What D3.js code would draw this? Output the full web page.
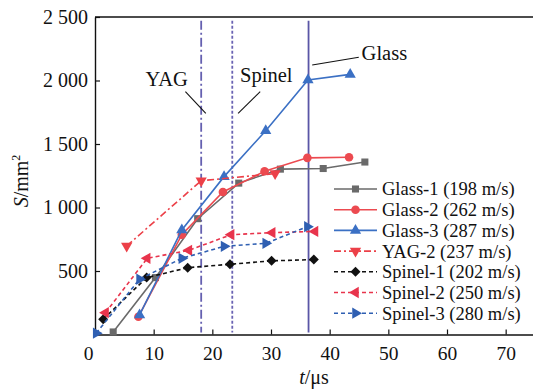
<!DOCTYPE html>
<html>
<head>
<meta charset="utf-8">
<script src="https://cdn.jsdelivr.net/npm/d3@7"></script>
<style>
  html, body { margin: 0; padding: 0; background: #fff; }
  svg, svg text { font-family: "Liberation Serif", Tinos, "Times New Roman", Times, "DejaVu Serif", serif !important; }
</style>
</head>
<body>
<svg id="chart"></svg>
<script>
// data (t in µs, S in mm²)
var tGlass1 = [3.1, 10.3, 17.5, 24.5, 31.6, 38.9, 46.0];
var sGlass1 = [20, 448, 912, 1192, 1302, 1307, 1358];
var tGlass2 = [7.4, 14.8, 21.8, 28.9, 36.2, 43.3];
var sGlass2 = [140, 786, 1122, 1285, 1391, 1396];
var tGlass3 = [7.6, 14.8, 22.0, 29.1, 36.3, 43.5];
var sGlass3 = [154, 823, 1243, 1605, 2004, 2048];
var tYag2 = [5.4, 18.1, 30.7];
var sYag2 = [697, 1211, 1267];
var tSpinel1 = [1.4, 8.8, 15.8, 23.0, 30.1, 37.3];
var sSpinel1 = [120, 448, 526, 553, 580, 590];
var tSpinel2 = [1.8, 8.9, 16.0, 23.2, 30.2, 37.5];
var sSpinel2 = [172, 600, 663, 786, 802, 812];
var tSpinel3 = [0.2, 7.6, 14.8, 22.0, 29.1, 36.2];
var sSpinel3 = [10, 436, 600, 694, 718, 849];

var seriesNames = ["Glass-1 (198 m/s)", "Glass-2 (262 m/s)", "Glass-3 (287 m/s)", "YAG-2 (237 m/s)",
                   "Spinel-1 (202 m/s)", "Spinel-2 (250 m/s)", "Spinel-3 (280 m/s)"];

// vertical marker lines
var markerNames = ["YAG", "Spinel", "Glass"];
var markerTimes = [18.1, 23.4, 36.4];

var xTicks = [0, 10, 20, 30, 40, 50, 60, 70];
var yTicks = [500, 1000, 1500, 2000, 2500];

var FONT = "'Liberation Serif', Tinos, 'Times New Roman', Times, 'DejaVu Serif', serif";
var W = 533, H = 392;
var svg = d3.select("#chart").attr("width", W).attr("height", H).attr("font-family", FONT);

var x = d3.scaleLinear().domain([0, 75]).range([95, 535]);
var y = d3.scaleLinear().domain([0, 2500]).range([334.5, 17]);

var series = [
  { t: tGlass1, s: sGlass1, color: "#6a6a6a", dash: null, sym: d3.symbolSquare, rot: 0, size: 50 },
  { t: tGlass2, s: sGlass2, color: "#ec4a50", dash: null, sym: d3.symbolCircle, rot: 0, size: 58 },
  { t: tGlass3, s: sGlass3, color: "#3b70c4", dash: null, sym: d3.symbolTriangle, rot: 0, size: 55 },
  { t: tYag2, s: sYag2, color: "#ec4048", dash: "7,3,2,3", sym: d3.symbolTriangle, rot: 180, size: 55 },
  { t: tSpinel1, s: sSpinel1, color: "#111111", dash: "4,3", sym: d3.symbolSquare, rot: 45, size: 50 },
  { t: tSpinel2, s: sSpinel2, color: "#e8344c", dash: "4,3", sym: d3.symbolTriangle, rot: -90, size: 55 },
  { t: tSpinel3, s: sSpinel3, color: "#2f5fb2", dash: "4,3", sym: d3.symbolTriangle, rot: 90, size: 55 }
];
series.forEach(function (d, i) { d.name = seriesNames[i]; });

// axes
var xAxis = d3.axisBottom(x).tickValues(xTicks).tickSize(-5).tickSizeOuter(0).tickPadding(11.5);
var yAxis = d3.axisLeft(y).tickValues(yTicks).tickSize(-5).tickSizeOuter(0).tickPadding(7)
  .tickFormat(function (d) { return d >= 1000 ? d3.format(",")(d).replace(",", " ") : d; });

var gx = svg.append("g").attr("transform", "translate(0," + y(0) + ")").call(xAxis);
var gy = svg.append("g").attr("transform", "translate(" + x(0) + ",0)").call(yAxis);
[gx, gy].forEach(function (g) {
  g.attr("font-family", FONT);
  g.selectAll("text").attr("font-size", 19.5).attr("fill", "#111");
  g.selectAll("line").attr("stroke", "#111").attr("stroke-width", 1.2);
  g.select(".domain").attr("stroke", "#111").attr("stroke-width", 1.4);
});
gx.selectAll(".tick text").filter(function (d) { return d === 0; }).attr("dx", -7);
gy.selectAll(".tick text").attr("font-size", 20);

// top frame line
svg.append("line")
  .attr("x1", x(0)).attr("x2", x(75))
  .attr("y1", y(2500)).attr("y2", y(2500))
  .attr("stroke", "#111").attr("stroke-width", 1.4);

// axis titles
var yt = svg.append("text")
  .attr("transform", "translate(28," + 181 + ") rotate(-90)")
  .attr("text-anchor", "middle").attr("font-size", 20).attr("fill", "#111");
yt.append("tspan").attr("font-style", "italic").text("S");
yt.append("tspan").text("/mm");
yt.append("tspan").attr("font-size", 12).attr("dy", -8).text("2");

var xt = svg.append("text")
  .attr("x", 314).attr("y", 384)
  .attr("text-anchor", "middle").attr("font-size", 20).attr("fill", "#111");
xt.append("tspan").attr("font-style", "italic").text("t");
xt.append("tspan").text("/μs");

// vertical marker lines
var markerDash = ["9,3,2,3", "3,2", null];
var markerColor = ["#6560b0", "#6a63b3", "#5a56a6"];
markerTimes.forEach(function (t, i) {
  svg.append("line")
    .attr("x1", x(t)).attr("x2", x(t))
    .attr("y1", y(2470)).attr("y2", y(15))
    .attr("stroke", markerColor[i])
    .attr("stroke-width", 1.8)
    .attr("stroke-dasharray", markerDash[i]);
});

// series lines and markers
var line = d3.line().x(function (d) { return x(d[0]); }).y(function (d) { return y(d[1]); });

series.forEach(function (sr) {
  var pts = sr.t.map(function (t, i) { return [t, sr.s[i]]; });
  svg.append("path")
    .attr("d", line(pts))
    .attr("fill", "none")
    .attr("stroke", sr.color)
    .attr("stroke-width", 1.6)
    .attr("stroke-dasharray", sr.dash);
  svg.selectAll(null)
    .data(pts)
    .enter()
    .append("path")
    .attr("d", d3.symbol().type(sr.sym).size(sr.size))
    .attr("fill", sr.color)
    .attr("transform", function (d) { return "translate(" + x(d[0]) + "," + y(d[1]) + ") rotate(" + sr.rot + ")"; });
});

// annotations for marker lines
var annText = [[166.7, 85.5], [266.3, 82], [384.4, 59.5]];
var annLine = [[185.4, 91.7, 205.8, 113.3], [260.2, 91.7, 238.1, 113.3], [358.8, 57.3, 312.2, 65]];
markerNames.forEach(function (n, i) {
  svg.append("text")
    .attr("x", annText[i][0]).attr("y", annText[i][1])
    .attr("text-anchor", "middle").attr("font-size", 20.5).attr("fill", "#111")
    .text(n);
  svg.append("line")
    .attr("x1", annLine[i][0]).attr("y1", annLine[i][1])
    .attr("x2", annLine[i][2]).attr("y2", annLine[i][3])
    .attr("stroke", "#111").attr("stroke-width", 1.1);
});

// legend
var lg = svg.append("g");
series.forEach(function (sr, i) {
  var ly = 189 + i * 20.7;
  lg.append("line")
    .attr("x1", 334).attr("x2", 377).attr("y1", ly).attr("y2", ly)
    .attr("stroke", sr.color).attr("stroke-width", 1.6)
    .attr("stroke-dasharray", sr.dash);
  lg.append("path")
    .attr("d", d3.symbol().type(sr.sym).size(sr.size))
    .attr("fill", sr.color)
    .attr("transform", "translate(355.5," + ly + ") rotate(" + sr.rot + ")");
  lg.append("text")
    .attr("x", 382).attr("y", ly).attr("dy", "0.35em")
    .attr("font-size", 18.5).attr("fill", "#111")
    .text(sr.name);
});
</script>
</body>
</html>
